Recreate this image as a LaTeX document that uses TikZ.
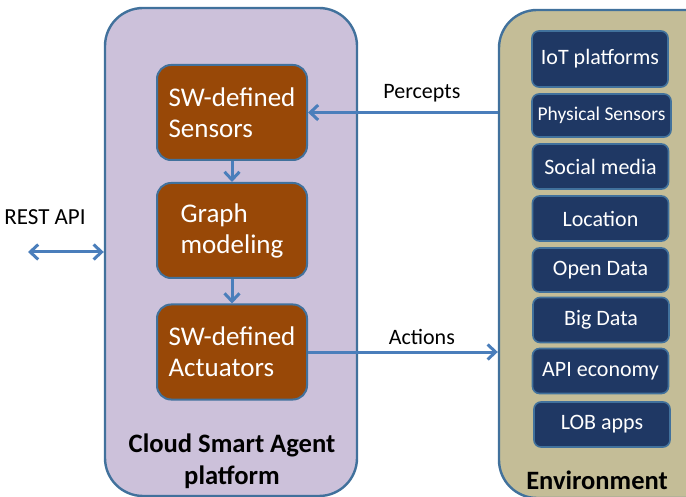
\documentclass[tikz,border=0pt]{standalone}
\usepackage{fontspec}
\setmainfont{Carlito}
\usetikzlibrary{arrows.meta}
\definecolor{lavender}{HTML}{CCC1DA}
\definecolor{khaki}{HTML}{C4BD97}
\definecolor{rust}{HTML}{984807}
\definecolor{navy}{HTML}{1F3864}
\definecolor{edge}{HTML}{41719C}
\definecolor{flow}{HTML}{4A7EBB}
\tikzset{
    every picture/.style={x=1pt, y=-1pt},
    >={Straight Barb[length=8pt, width=15pt]},
    frame/.style={draw=edge, line width=2.4pt, rounded corners=38pt, inner sep=0pt},
    block/.style={draw=edge, line width=2pt, fill=rust, rounded corners=14pt,
        minimum width=150pt, minimum height=95pt, inner sep=0pt, text=white,
        align=left, font=\fontsize{27}{31}\selectfont},
    source/.style={draw=edge, line width=1.6pt, fill=navy, rounded corners=7pt,
        minimum width=136pt, minimum height=45pt, inner sep=0pt, text=white,
        font=\fontsize{22}{26}\selectfont},
    flow/.style={draw=flow, line width=3pt},
    tag/.style={font=\fontsize{22}{26}\selectfont}
}

\begin{document}
\begin{tikzpicture}
    \useasboundingbox (0,0) rectangle (686,497);

    % Containers
    \node[frame, fill=lavender, minimum width=252pt, minimum height=488pt] (platform) at (231,252) {};
    \node[frame, fill=khaki, minimum width=240pt, minimum height=488pt] (env) at (619,254) {};

    % Agent blocks
    \node[block] (sensors) at (232,112.5) {SW-defined\\Sensors};
    \node[block] (graph) at (232,230.5) {Graph\\modeling};
    \node[block] (actuators) at (232,352) {SW-defined\\Actuators};
    \node[align=center, font=\bfseries\fontsize{26.6}{32}\selectfont] (agentlabel) at (232,461) {Cloud Smart Agent\\platform};

    % Environment sources
    \node[source, minimum height=56pt] (iot) at (600,59) {IoT platforms};
    \node[source, minimum width=139pt, minimum height=43pt, font=\fontsize{19.5}{23}\selectfont] (physical) at (601.5,115.5) {Physical Sensors};
    \node[source] (social) at (600.5,166.5) {Social media};
    \node[source] (location) at (600.5,218.5) {Location};
    \node[source, minimum height=44pt] (opendata) at (600.5,270) {Open Data};
    \node[source] (bigdata) at (601,320) {Big Data};
    \node[source] (apieco) at (600.5,371) {API economy};
    \node[source] (lob) at (602,424.5) {LOB apps};
    \node[font=\bfseries\fontsize{26.5}{32}\selectfont] (envlabel) at (597,480) {Environment};

    % Flows
    \draw[flow, ->] (sensors) -- (graph);
    \draw[flow, ->] (graph) -- (actuators);
    \draw[flow, ->] (sensors.east -| env.west) -- (sensors.east) node[tag, pos=0.4, above=6pt, black] {Percepts};
    \draw[flow, ->] (actuators.east) -- (actuators.east -| env.west) node[tag, pos=0.6, above=3pt, black] {Actions};
    \coordinate (rest) at (28,252);
    \draw[flow, <->] (rest) -- (platform.west);
    \node[tag, font=\fontsize{23}{27}\selectfont] (restlabel) at (45,217) {REST API};
\end{tikzpicture}
\end{document}
